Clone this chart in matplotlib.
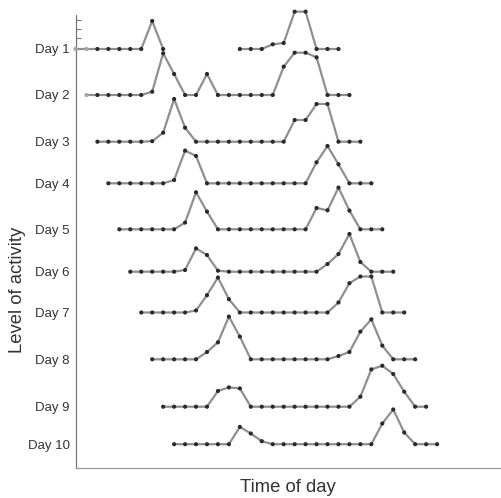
import numpy as np
import matplotlib
matplotlib.use('Agg')
import matplotlib.pyplot as plt

plt.rcParams['font.family'] = ['Liberation Sans', 'DejaVu Sans']

N = None

# activity level for each hour slot of the day (25 slots per day)
day1 = [0, 0, 0, 0, 0, 0, 0, 28, 0, N, N, N, N, N, N, 0, 0, 0, 4.7, 6, 37.3, 37.3, 0, 0, 0]
day2 = [0, 0, 0, 0, 0, 0, 3.3, 41.7, 21, 0, 0, 21, 0, 0, 0, 0, 0, 0, 28.3, 42.3, 42.3, 37.7, 0, 0, 0]
day3 = [0, 0, 0, 0, 0, 0.5, 9, 42.7, 14, 0, 0, 0, 0, 0, 0, 0, 0, 0, 21.7, 21.7, 37.7, 37.7, 0, 0, 0]
day4 = [0, 0, 0, 0, 0, 0, 3.3, 32.7, 27.3, 0, 0, 0, 0, 0, 0, 0, 0, 0, 0, 21, 37.3, 19, 0, 0, 0]
day5 = [0, 0, 0, 0, 0, 0, 6.7, 37, 17.7, 0, 0, 0, 0, 0, 0, 0, 0, 0, 21.3, 19, 41.7, 18.7, 0, 0, 0]
day6 = [0, 0, 0, 0, 0, 1.7, 23.3, 16.7, 1, 0, 0, 0, 0, 0, 0, 0, 0, 0, 7.7, 17.7, 37.7, 9.7, 0, 0, 0]
day7 = [0, 0, 0, 0, 0, 2, 17.3, 35, 13.3, 0, 0, 0, 0, 0, 0, 0, 0, 0, 10, 29.3, 36, 36, 0, 0, 0]
day8 = [0, 0, 0, 0, 0, 7.3, 17, 42.7, 22.7, 0, 0, 0, 0, 0, 0, 0, 0, 3.3, 7.3, 27.7, 40, 13.7, 0, 0, 0]
day9 = [0, 0, 0, 0, 0, 15.7, 19.3, 18.3, 0, 0, 0, 0, 0, 0, 0, 0, 0, 0, 10, 37.3, 41, 32.7, 15, 0, 0]
day10 = [0, 0, 0, 0, 0, 0, 17.3, 10.7, 3, 0, 0, 0, 0, 0, 0, 0, 0, 0, 0, 20.7, 34.7, 11.7, 0, 0, 0]

days = [day1, day2, day3, day4, day5, day6, day7, day8, day9, day10]
labels = ['Day 1', 'Day 2', 'Day 3', 'Day 4', 'Day 5',
          'Day 6', 'Day 7', 'Day 8', 'Day 9', 'Day 10']
# each day starts one slot later than the one before
start = [0, 1, 2, 3, 4, 5, 6, 7, 8, 9]

# row baselines (stacked from the x axis upward)
row_base = [419, 373, 326.3, 284.7, 238.7, 196.3, 155.5, 108.7, 61.3, 23.8]
faint = [2, 1, 0, 0, 0, 0, 0, 0, 0, 0]

fig = plt.figure(figsize=(5.01, 4.98), dpi=100)
ax = fig.add_axes([75.5 / 501, 30 / 498, 1 - 75.5 / 501, 453 / 498])

line_col = '#8f8f8f'
dot_col = '#2a2a2a'

for i, vals in enumerate(days):
    x = start[i] + np.arange(len(vals))
    y = np.array([np.nan if v is None else row_base[i] + v for v in vals])
    ax.plot(x, y, color=line_col, lw=1.6, zorder=2, clip_on=False)
    cols = ['#a5a5a5' if k < faint[i] else dot_col for k in range(len(vals))]
    ax.scatter(x, y, s=9, c=cols, zorder=3, clip_on=False, linewidths=0)

ax.set_xlim(0, 426 / 10.97)
ax.set_ylim(0, 453)

ax.set_yticks(row_base)
ax.set_yticklabels(labels, fontsize=9.5, color='#333333')
ax.tick_params(axis='y', which='major', length=0, pad=4)
ax.set_yticks([row_base[0] + 11.3, row_base[0] + 20, row_base[0] + 29], minor=True)
ax.tick_params(axis='y', which='minor', direction='in', length=3.6, width=0.8, color='#777777')
ax.set_xticks([])

for s in ['top', 'right']:
    ax.spines[s].set_visible(False)
ax.spines['left'].set_color('#777777')
ax.spines['left'].set_linewidth(0.9)
ax.spines['bottom'].set_color('#999999')
ax.spines['bottom'].set_linewidth(0.9)

fig.text(18 / 501, 1 - 290 / 498, 'Level of activity', rotation=90,
         ha='center', va='center', fontsize=13.3, color='#333333')
fig.text(287.5 / 501, 1 - 487 / 498, 'Time of day',
         ha='center', va='center', fontsize=13.3, color='#333333')

fig.savefig('out.png', dpi=100)
